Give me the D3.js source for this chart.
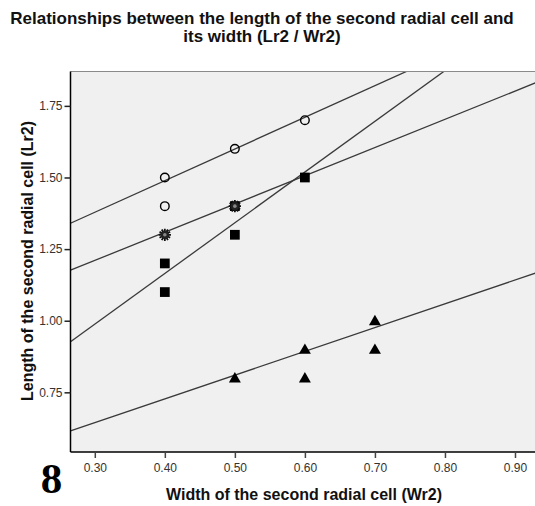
<!DOCTYPE html>
<html>
<head>
<meta charset="utf-8">
<script src="https://cdn.jsdelivr.net/npm/d3@7"></script>
<style>
  body { margin: 0; background: #fff; }
  svg { display: block; font-family: "Liberation Sans", Arial, sans-serif; }
</style>
</head>
<body>
<svg id="chart" width="535" height="506"></svg>
<script>
// groups
const circleX = [0.4, 0.4, 0.5, 0.6]
const circleY = [1.5, 1.4, 1.6, 1.7]
const starX = [0.4, 0.5]
const starY = [1.3, 1.4]
const squareX = [0.4, 0.4, 0.5, 0.5, 0.6]
const squareY = [1.2, 1.1, 1.4, 1.3, 1.5]
const triangleX = [0.5, 0.6, 0.6, 0.7, 0.7]
const triangleY = [0.8, 0.9, 0.8, 1.0, 0.9]

// fit lines (circles, stars, squares, triangles)
const fitSlopes = [1.105, 0.985, 1.77, 0.83]
const fitIntercepts = [1.047, 0.915, 0.457, 0.395]

const xTicks = [0.3, 0.4, 0.5, 0.6, 0.7, 0.8, 0.9]
const yTicks = [0.75, 1.0, 1.25, 1.5, 1.75]

const titleLines = [
    'Relationships between the length of the second radial cell and',
    'its width (Lr2 / Wr2)'
]
const xLabel = 'Width of the second radial cell (Wr2)'
const yLabel = 'Length of the second radial cell (Lr2)'
const panelLabel = '8'

const plot = { left: 70.5, top: 71.5, right: 536, bottom: 452 }

const svg = d3.select('#chart')

const x = d3.scaleLinear()
    .domain([0.2653, 0.93])
    .range([plot.left, plot.right])

const y = d3.scaleLinear()
    .domain([0.5417, 1.87])
    .range([plot.bottom, plot.top])

svg.append('rect')
    .attr('x', plot.left)
    .attr('y', plot.top)
    .attr('width', plot.right - plot.left)
    .attr('height', plot.bottom - plot.top)
    .attr('fill', '#f0f0f0')

svg.append('defs').append('clipPath')
    .attr('id', 'clip')
    .append('rect')
    .attr('x', plot.left)
    .attr('y', plot.top)
    .attr('width', plot.right - plot.left)
    .attr('height', plot.bottom - plot.top)

// fit lines
const [x0, x1] = x.domain()
svg.append('g')
    .attr('clip-path', 'url(#clip)')
    .selectAll('line')
    .data(fitSlopes.map((s, i) => ({ s, b: fitIntercepts[i] })))
    .enter()
    .append('line')
    .attr('x1', x(x0))
    .attr('y1', d => y(d.b + d.s * x0))
    .attr('x2', x(x1))
    .attr('y2', d => y(d.b + d.s * x1))
    .attr('stroke', '#3a3a3a')
    .attr('stroke-width', 1.3)

// top frame line
svg.append('line')
    .attr('x1', plot.left).attr('x2', plot.right)
    .attr('y1', plot.top).attr('y2', plot.top)
    .attr('stroke', '#8a8a8a')
    .attr('stroke-width', 1.2)

const yAxis = d3.axisLeft(y)
    .tickValues(yTicks)
    .tickFormat(d3.format('.2f'))
    .tickSize(6)
    .tickPadding(2)

const gy = svg.append('g')
    .attr('transform', `translate(${plot.left},0)`)
    .call(yAxis)
gy.select('.domain').attr('d', `M0,${plot.top}V${plot.bottom}`).attr('stroke', '#000').attr('stroke-width', 1.5)
gy.selectAll('.tick line').attr('stroke', '#222').attr('stroke-width', 1.5)
gy.selectAll('.tick text').attr('font-size', 12).attr('fill', '#333')

const xAxis = d3.axisBottom(x)
    .tickValues(xTicks)
    .tickFormat(d3.format('.2f'))
    .tickSize(6)
    .tickPadding(5)

const gx = svg.append('g')
    .attr('transform', `translate(0,${plot.bottom})`)
    .call(xAxis)
gx.select('.domain').attr('d', `M${plot.left},0H${plot.right}`).attr('stroke', '#000').attr('stroke-width', 1.5)
gx.selectAll('.tick line').attr('stroke', '#444').attr('stroke-width', 1.5)
gx.selectAll('.tick text').attr('font-size', 12).attr('fill', '#333')

// markers
const pts = (xs, ys) => xs.map((v, i) => ({ x: v, y: ys[i] }))

svg.append('g').selectAll('circle')
    .data(pts(circleX, circleY))
    .enter()
    .append('circle')
    .attr('cx', d => x(d.x))
    .attr('cy', d => y(d.y))
    .attr('r', 4.3)
    .attr('fill', 'none')
    .attr('stroke', '#000')
    .attr('stroke-width', 1.4)

svg.append('g').selectAll('path')
    .data(pts(squareX, squareY))
    .enter()
    .append('path')
    .attr('transform', d => `translate(${x(d.x)},${y(d.y)})`)
    .attr('d', d3.symbol(d3.symbolSquare, 95))
    .attr('fill', '#000')

svg.append('g').selectAll('path')
    .data(pts(triangleX, triangleY))
    .enter()
    .append('path')
    .attr('transform', d => `translate(${x(d.x)},${y(d.y) + 1})`)
    .attr('d', d3.symbol(d3.symbolTriangle, 62))
    .attr('fill', '#000')

// spiky star marker
const burst = {
    draw(context, size) {
        const r = Math.sqrt(size) / 2
        for (let k = 0; k < 12; k++) {
            const a = k * Math.PI / 6
            context.moveTo(0, 0)
            context.lineTo(r * Math.cos(a), r * Math.sin(a))
        }
    }
}
const stars = svg.append('g').selectAll('g')
    .data(pts(starX, starY))
    .enter()
    .append('g')
    .attr('transform', d => `translate(${x(d.x)},${y(d.y)})`)
stars.append('path')
    .attr('d', d3.symbol(burst, 150))
    .attr('stroke', '#111')
    .attr('stroke-width', 1.8)
stars.append('circle')
    .attr('r', 4)
    .attr('fill', '#222')
stars.append('circle')
    .attr('r', 1.8)
    .attr('fill', '#888')

// texts
svg.append('g').selectAll('text')
    .data(titleLines)
    .enter()
    .append('text')
    .attr('x', 262)
    .attr('y', (d, i) => 24 + i * 18)
    .attr('text-anchor', 'middle')
    .attr('font-size', 17)
    .attr('font-weight', 'bold')
    .attr('fill', '#111')
    .text(d => d)

svg.append('text')
    .attr('x', 304)
    .attr('y', 500)
    .attr('text-anchor', 'middle')
    .attr('font-size', 16)
    .attr('font-weight', 'bold')
    .attr('fill', '#111')
    .text(xLabel)

svg.append('text')
    .attr('transform', 'translate(33,261) rotate(-90)')
    .attr('text-anchor', 'middle')
    .attr('font-size', 16)
    .attr('font-weight', 'bold')
    .attr('fill', '#111')
    .text(yLabel)

svg.append('text')
    .attr('x', 51.5)
    .attr('y', 492.5)
    .attr('text-anchor', 'middle')
    .attr('font-family', '"Liberation Serif", "Times New Roman", serif')
    .attr('font-size', 43)
    .attr('font-weight', 'bold')
    .attr('fill', '#000')
    .text(panelLabel)
</script>
</body>
</html>
